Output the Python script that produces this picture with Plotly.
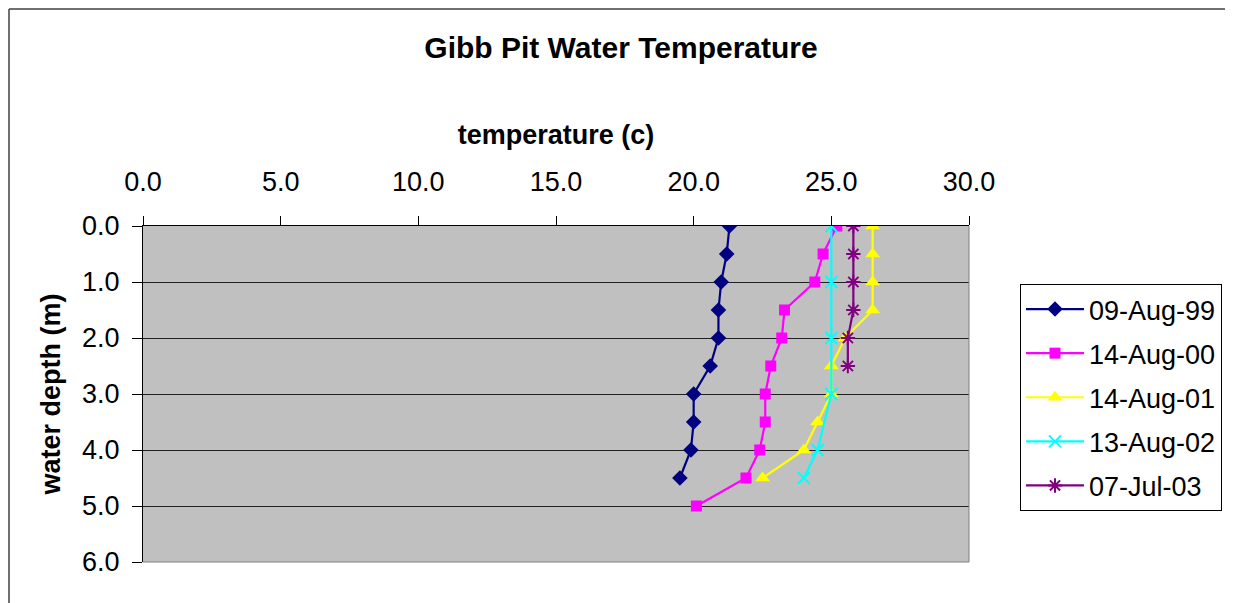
import plotly.graph_objects as go

# ---- data ----
series_names = ["09-Aug-99", "14-Aug-00", "14-Aug-01", "13-Aug-02", "07-Jul-03"]

depth_99 = [0.0, 0.5, 1.0, 1.5, 2.0, 2.5, 3.0, 3.5, 4.0, 4.5]
temp_99 = [21.3, 21.2, 21.0, 20.9, 20.9, 20.6, 20.0, 20.0, 19.9, 19.5]

depth_00 = [0.0, 0.5, 1.0, 1.5, 2.0, 2.5, 3.0, 3.5, 4.0, 4.5, 5.0]
temp_00 = [25.2, 24.7, 24.4, 23.3, 23.2, 22.8, 22.6, 22.6, 22.4, 21.9, 20.1]

depth_01 = [0.0, 0.5, 1.0, 1.5, 2.0, 2.5, 3.0, 3.5, 4.0, 4.5]
temp_01 = [26.5, 26.5, 26.5, 26.5, 25.5, 25.0, 25.0, 24.5, 24.0, 22.5]

depth_02 = [0.0, 1.0, 2.0, 3.0, 4.0, 4.5]
temp_02 = [25.0, 25.0, 25.0, 25.0, 24.5, 24.0]

depth_03 = [0.0, 0.5, 1.0, 1.5, 2.0, 2.5]
temp_03 = [25.8, 25.8, 25.8, 25.8, 25.6, 25.6]

x_ticks = [0, 5, 10, 15, 20, 25, 30]
y_ticks = [0, 1, 2, 3, 4, 5, 6]

# ---- styles ----
styles = [
    dict(color="#000080", symbol="diamond", size=12, lw=0),
    dict(color="#FF00FF", symbol="square", size=11, lw=0),
    dict(color="#FFFF00", symbol="triangle-up", size=13, lw=0),
    dict(color="#00FFFF", symbol="x-thin-open", size=12, lw=2),
    dict(color="#800080", symbol="asterisk-open", size=12, lw=2),
]
data = [(temp_99, depth_99), (temp_00, depth_00), (temp_01, depth_01),
        (temp_02, depth_02), (temp_03, depth_03)]

FONT = "Arial, Liberation Sans, sans-serif"

fig = go.Figure()
for i, (name, (t, d), st) in enumerate(zip(series_names, data, styles)):
    marker = dict(symbol=st["symbol"], size=st["size"], color=st["color"])
    if st["lw"]:
        marker["line"] = dict(color=st["color"], width=st["lw"])
    fig.add_trace(go.Scatter(
        x=t, y=d, name=name, mode="lines+markers",
        line=dict(color=st["color"], width=2.2),
        marker=marker, legendgroup=f"g{i}",
    ))

OFF = 8  # page body margin
W, H = 1233 - OFF, 603 - OFF
L, R, T, B = 143 - OFF, 969 - OFF, 226 - OFF, 562 - OFF
PW, PH = R - L, B - T


def px(xr):
    return (xr - OFF - L) / PW


def py(yr):
    return (B - (yr - OFF)) / PH


fig.update_layout(
    width=W, height=H,
    margin=dict(l=L, r=W - R, t=T, b=H - B, autoexpand=False),
    paper_bgcolor="white",
    plot_bgcolor="#C0C0C0",
    font=dict(family=FONT, size=27, color="black"),
    title=dict(text="<b>Gibb Pit Water Temperature</b>", x=(621 - OFF) / W, xref="container",
               xanchor="center", y=1 - (47 - OFF) / H, yref="container", yanchor="middle",
               font=dict(size=30, family=FONT, color="black")),
    showlegend=True,
    legend=dict(x=px(1020), xanchor="left",
                y=py(284), yanchor="top",
                bgcolor="white", bordercolor="#000000", borderwidth=1,
                font=dict(size=27, family=FONT, color="black"),
                tracegroupgap=6, itemwidth=58),
    xaxis=dict(side="top", range=[0, 30], tickvals=x_ticks, tickformat=".1f",
               showgrid=False, zeroline=False, showline=True, linecolor="black",
               linewidth=1, ticks="outside", ticklen=9, tickcolor="black",
               ticklabelstandoff=14,
               title=dict(text="<b>temperature (c)</b>", standoff=14,
                          font=dict(size=27, family=FONT))),
    yaxis=dict(range=[6, 0], tickvals=y_ticks, tickformat=".1f",
               showgrid=True, gridcolor="#202020", gridwidth=1, zeroline=False,
               showline=True, linecolor="black", linewidth=1,
               ticks="outside", ticklen=10, tickcolor="black",
               ticklabelstandoff=7,
               title=dict(text="<b>water depth (m)</b>", standoff=13,
                          font=dict(size=27, family=FONT))),
    shapes=[
        # right/bottom plot border (gray)
        dict(type="line", xref="paper", yref="paper", x0=1, x1=1, y0=0, y1=1,
             line=dict(color="#808080", width=1)),
        dict(type="line", xref="paper", yref="paper", x0=0, x1=1, y0=0, y1=0,
             line=dict(color="#808080", width=1)),
        # outer chart frame (left / top / right edges)
        dict(type="line", xref="paper", yref="paper",
             x0=(1 - L) / PW, x1=(1 - L) / PW, y0=(B - H - 5) / PH, y1=(B - 1) / PH,
             line=dict(color="#404040", width=1.5)),
        dict(type="line", xref="paper", yref="paper",
             x0=(1 - L) / PW, x1=px(1226), y0=(B - 1) / PH, y1=(B - 1) / PH,
             line=dict(color="#404040", width=1.5)),
        dict(type="line", xref="paper", yref="paper",
             x0=px(1226), x1=px(1226), y0=(B - H - 5) / PH, y1=(B - 1) / PH,
             line=dict(color="#404040", width=1.5)),
    ],
)

fig.write_html("out.html")
